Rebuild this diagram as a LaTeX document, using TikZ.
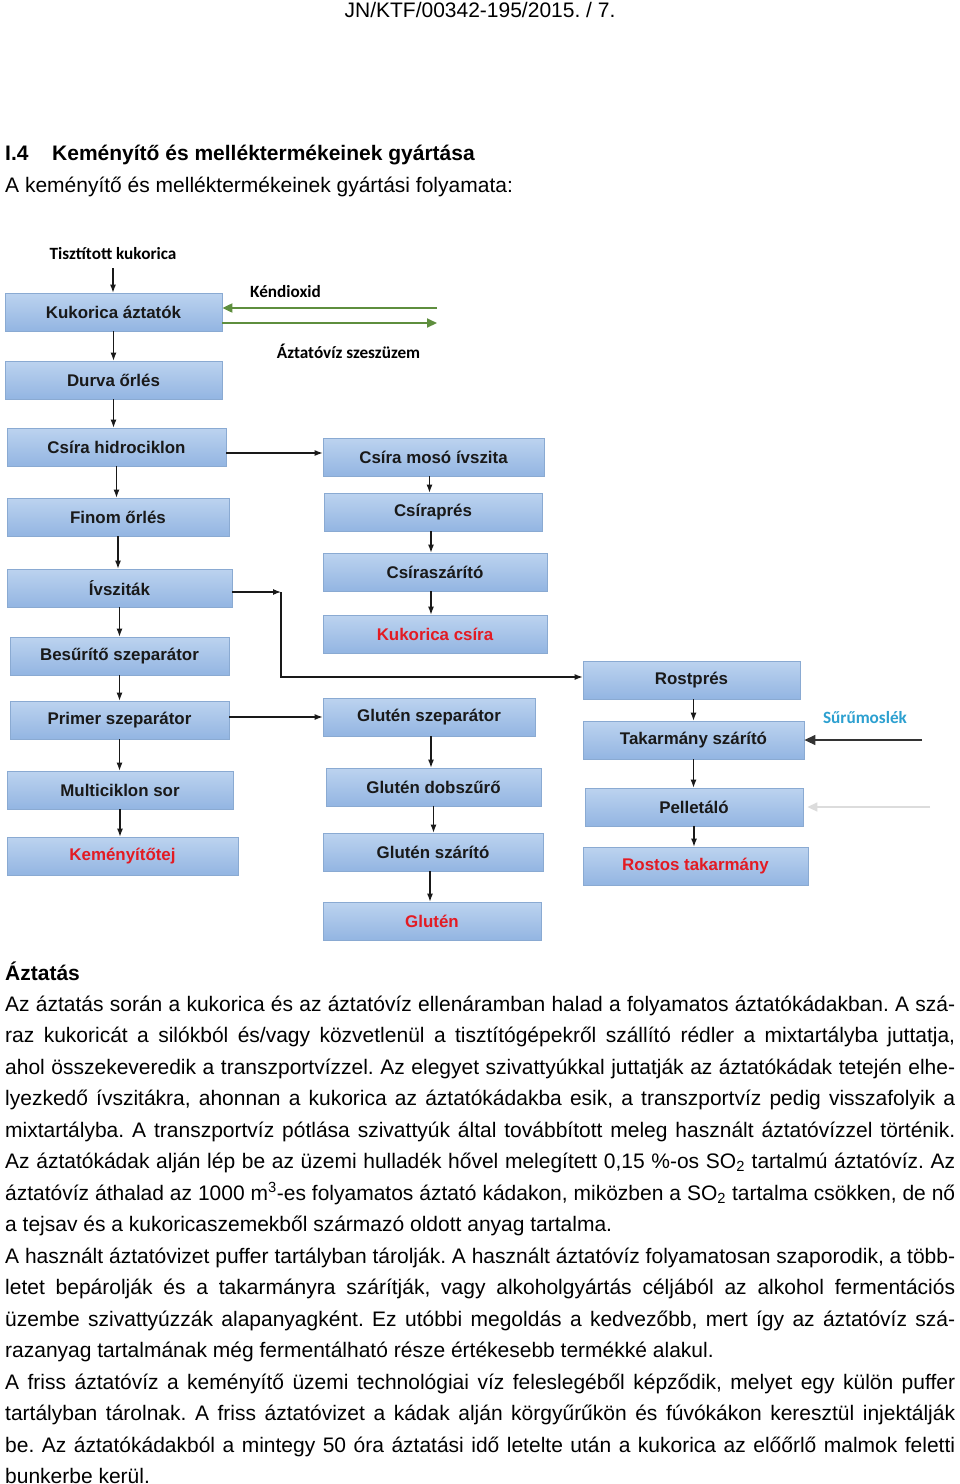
\documentclass[tikz,border=0pt]{standalone}
\usepackage{fontspec}
\setmainfont{Liberation Sans}
\newfontfamily\lblfont{Carlito}
\usetikzlibrary{arrows.meta}
\definecolor{boxtop}{HTML}{BCD3EF}
\definecolor{boxbot}{HTML}{93B5E2}
\definecolor{boxline}{HTML}{8AAAD2}
\definecolor{prodred}{HTML}{E31B23}
\definecolor{cyantxt}{HTML}{2CA0D0}
\definecolor{greenarr}{HTML}{5E8E3E}
\definecolor{lightarr}{HTML}{DCDCDC}
\newcommand\jline[1]{\hbox to 950pt{#1}}
\newcommand\lline[1]{\hbox{#1}}
\tikzset{
  box/.style={draw=boxline, line width=0.8pt, top color=boxtop, bottom color=boxbot,
    minimum height=38pt, inner sep=0pt, font=\fontsize{16.9}{18}\selectfont\bfseries, text=black!90},
  prod/.style={text=prodred},
  arr/.style={-{Latex[length=8pt,width=6pt]}, line width=1.1pt, black!90},
  garr/.style={-{Triangle[length=10pt,width=9pt]}, line width=2pt, greenarr},
  lbl/.style={font=\lblfont\fontsize{17.2}{19}\selectfont\bfseries, inner sep=0pt},
}
\begin{document}
\begin{tikzpicture}[x=1pt,y=-1pt]
\frenchspacing
\useasboundingbox (0,0) rectangle (960,1484);
\fill[white] (0,0) rectangle (960,1484);

% header and title
\node[anchor=base, inner sep=0pt, font=\fontsize{21}{24}\selectfont] (hdr) at (480,17.5) {JN/KTF/00342-195/2015. / 7.};
\node[anchor=base west, inner sep=0pt, font=\fontsize{21}{24}\selectfont\bfseries] (sec) at (5,160.5) {I.4};
\node[anchor=base west, inner sep=0pt, font=\fontsize{21}{24}\selectfont\bfseries] (ttl) at (52,160.5) {Keményítő és melléktermékeinek gyártása};
\node[anchor=base west, inner sep=0pt, font=\fontsize{21}{24}\selectfont] (sub) at (5,192) {A keményítő és melléktermékeinek gyártási folyamata:};

% left column
\node[lbl] (tk) at (113,254) {Tisztított kukorica};
\node[box, minimum width=217pt] (kuk) at (113.5,312) {Kukorica áztatók};
\node[box, minimum width=217pt] (durva) at (113.5,380) {Durva őrlés};
\node[box, minimum width=219pt] (hidro) at (116.5,447) {Csíra hidrociklon};
\node[box, minimum width=222pt] (finom) at (118,517) {Finom őrlés};
\node[box, minimum width=225pt] (ivsz) at (119.5,588) {Ívsziták};
\node[box, minimum width=219pt] (besur) at (119.5,656) {Besűrítő szeparátor};
\node[box, minimum width=219pt] (primer) at (119.5,720) {Primer szeparátor};
\node[box, minimum width=226pt] (multi) at (120,790) {Multiciklon sor};
\node[box, prod, minimum width=231pt] (kemeny) at (122.5,856) {Keményítőtej};

% middle column
\node[box, minimum width=221pt] (mos) at (433.5,457) {Csíra mosó ívszita};
\node[box, minimum width=218pt] (pres) at (433,512) {Csíraprés};
\node[box, minimum width=224pt] (szar) at (435,572) {Csíraszárító};
\node[box, prod, minimum width=224pt] (csira) at (435,634) {Kukorica csíra};
\node[box, minimum width=212pt] (glsz) at (429,717) {Glutén szeparátor};
\node[box, minimum width=215pt] (gldob) at (433.5,787) {Glutén dobszűrő};
\node[box, minimum width=220pt] (glszar) at (433,852) {Glutén szárító};
\node[box, prod, minimum width=218pt] (glut) at (432,921) {Glutén};

% right column
\node[box, minimum width=217pt] (rost) at (691.5,680) {Rostprés};
\node[box, minimum width=221pt] (tak) at (693.5,740) {Takarmány szárító};
\node[box, minimum width=218pt] (pell) at (694,807) {Pelletáló};
\node[box, prod, minimum width=225pt] (rostak) at (695.5,866) {Rostos takarmány};

% labels
\node[lbl] (kd) at (285.5,292) {Kéndioxid};
\node[lbl] (azv) at (348.5,351) {Áztatóvíz szeszüzem};
\node[lbl, text=cyantxt] (surm) at (865,718) {Sűrűmoslék};

% free ends
\coordinate (kdin) at (437,308);
\coordinate (azout) at (437,323);
\coordinate (surin) at (922,740);
\coordinate (grin) at (930,807);
\coordinate (j1) at (281,592);
\coordinate (j2) at (281,677);

% green arrows
\draw[garr] (kdin) -- (kdin -| kuk.east);
\draw[garr] (kuk.east |- azout) -- (azout);

% vertical arrows
\draw[arr] ([yshift=-8pt]tk.south) -- (tk.south |- kuk.north);
\draw[arr] (kuk.south) -- (kuk.south |- durva.north);
\draw[arr] (durva.south) -- (durva.south |- hidro.north);
\draw[arr] (hidro.south) -- (hidro.south |- finom.north);
\draw[arr] (finom.south) -- (finom.south |- ivsz.north);
\draw[arr] (ivsz.south) -- (ivsz.south |- besur.north);
\draw[arr] (besur.south) -- (besur.south |- primer.north);
\draw[arr] (primer.south) -- (primer.south |- multi.north);
\draw[arr] (multi.south) -- (multi.south |- kemeny.north);

\draw[arr] ([xshift=-4pt]mos.south) -- ([xshift=-4pt]mos.south |- pres.north);
\draw[arr] ([xshift=-2pt]pres.south) -- ([xshift=-2pt]pres.south |- szar.north);
\draw[arr] ([xshift=-4pt]szar.south) -- ([xshift=-4pt]szar.south |- csira.north);
\draw[arr] ([xshift=2pt]glsz.south) -- ([xshift=2pt]glsz.south |- gldob.north);
\draw[arr] (gldob.south) -- (gldob.south |- glszar.north);
\draw[arr] ([xshift=-3pt]glszar.south) -- ([xshift=-3pt]glszar.south |- glut.north);

\draw[arr] ([xshift=2pt]rost.south) -- ([xshift=2pt]rost.south |- tak.north);
\draw[arr] (tak.south) -- (tak.south |- pell.north);
\draw[arr] (pell.south) -- (pell.south |- rostak.north);

% horizontal arrows
\draw[arr] (hidro.east |- 0,453) -- (mos.west |- 0,453);
\draw[arr] (primer.east |- 0,717) -- (glsz.west |- 0,717);
\draw[arr] (ivsz.east |- j1) -- (j1);
\draw[arr] (j1) -- (j2) -- (j2 -| rost.west);
\draw[-{Triangle[length=11pt,width=10pt]}, line width=1.4pt, black!80] (surin) -- (surin -| tak.east);
\draw[-{Triangle[length=10pt,width=9pt]}, line width=1.6pt, lightarr, shorten >=4pt] (grin) -- (grin -| pell.east);

% body text
\node[anchor=base west, inner sep=0pt, font=\fontsize{21}{31.47}\selectfont] (body) at (5,980) {\vtop{\baselineskip=31.47pt
\lline{\bfseries Áztatás}
\jline{Az áztatás során a kukorica és az áztatóvíz ellenáramban halad a folyamatos áztatókádakban. A szá-}
\jline{raz kukoricát a silókból és/vagy közvetlenül a tisztítógépekről szállító rédler a mixtartályba juttatja,}
\jline{ahol összekeveredik a transzportvízzel. Az elegyet szivattyúkkal juttatják az áztatókádak tetején elhe-}
\jline{lyezkedő ívszitákra, ahonnan a kukorica az áztatókádakba esik, a transzportvíz pedig visszafolyik a}
\jline{mixtartályba. A transzportvíz pótlása szivattyúk által továbbított meleg használt áztatóvízzel történik.}
\jline{Az áztatókádak alján lép be az üzemi hulladék hővel melegített 0,15 \%-os SO\textsubscript{2} tartalmú áztatóvíz. Az}
\jline{áztatóvíz áthalad az 1000 m\textsuperscript{3}-es folyamatos áztató kádakon, miközben a SO\textsubscript{2} tartalma csökken, de nő}
\lline{a tejsav és a kukoricaszemekből származó oldott anyag tartalma.}
\jline{A használt áztatóvizet puffer tartályban tárolják. A használt áztatóvíz folyamatosan szaporodik, a több-}
\jline{letet bepárolják és a takarmányra szárítják, vagy alkoholgyártás céljából az alkohol fermentációs}
\jline{üzembe szivattyúzzák alapanyagként. Ez utóbbi megoldás a kedvezőbb, mert így az áztatóvíz szá-}
\lline{razanyag tartalmának még fermentálható része értékesebb termékké alakul.}
\jline{A friss áztatóvíz a keményítő üzemi technológiai víz feleslegéből képződik, melyet egy külön puffer}
\jline{tartályban tárolnak. A friss áztatóvizet a kádak alján körgyűrűkön és fúvókákon keresztül injektálják}
\jline{be. Az áztatókádakból a mintegy 50 óra áztatási idő letelte után a kukorica az előőrlő malmok feletti}
\lline{bunkerbe kerül.}
}};
\end{tikzpicture}
\end{document}
